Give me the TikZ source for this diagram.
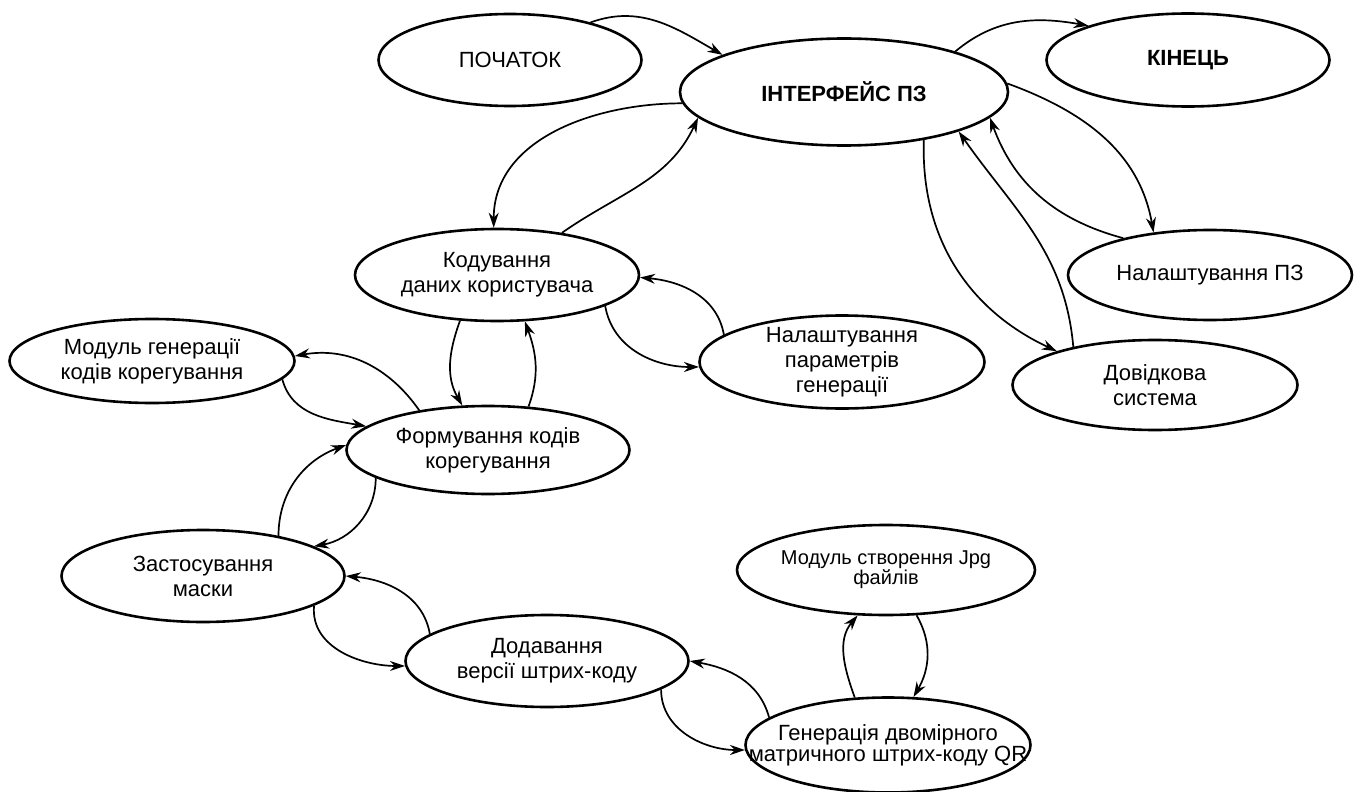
\documentclass[tikz,border=0pt]{standalone}
\usepackage{fontspec}
\setmainfont{Liberation Sans}
\usetikzlibrary{shapes.geometric,arrows.meta}
\begin{document}
\begin{tikzpicture}[x=0.5pt,y=-0.5pt,
  stt/.style={ellipse,draw,line width=1.3pt,inner xsep=-25pt,inner ysep=-10pt,align=center,
    font=\fontsize{11}{12.5}\selectfont,minimum width=142pt,minimum height=46pt},
  conn/.style={line width=0.85pt,-{Stealth[length=7.5pt,width=5pt]}}]
\useasboundingbox (0,0) rectangle (1361,792);
\fill[white] (0,0) rectangle (1361,792);

\node[stt,minimum width=131.5pt] (start) at (510,60) {ПОЧАТОК};
\node[stt,minimum width=164pt,minimum height=53.5pt,font=\fontsize{11}{12.5}\selectfont\bfseries] (iface) at (844,92) {ІНТЕРФЕЙС ПЗ};
\node[stt,minimum width=141.5pt,minimum height=46.5pt,font=\fontsize{11}{12.5}\selectfont\bfseries] (end) at (1188,60) {КІНЕЦЬ};
\node[stt] (kod) at (497,275) {Кодування\\даних користувача};
\node[stt,minimum height=45pt] (nalpz) at (1210,275) {Налаштування ПЗ};
\node[stt,minimum width=142.5pt,minimum height=46.5pt] (param) at (842,362) {Налаштування\\параметрів\\генерації};
\node[stt,minimum width=142.5pt,minimum height=45pt] (dov) at (1155,385) {Довідкова\\система};
\node[stt,minimum width=142.5pt,minimum height=42pt] (modgen) at (152,361) {Модуль генерації\\кодів корегування};
\node[stt,minimum width=141.5pt,minimum height=44pt] (form) at (488,450) {Формування кодів\\корегування};
\node[stt,minimum width=141.5pt] (zast) at (203,576) {Застосування\\маски};
\node[stt,minimum width=149pt,minimum height=45pt,font=\fontsize{10}{10}\selectfont] (jpg) at (886,570) {Модуль створення Jpg\\файлів};
\node[stt,minimum width=141.5pt] (dod) at (547,661) {Додавання\\версії штрих-коду};
\node[stt,minimum width=142.5pt,minimum height=47.5pt,font=\fontsize{11}{10.5}\selectfont] (qr) at (888,745) {Генерація двомірного\\матричного штрих-коду QR};

\draw[conn] (start.25) to[out=20,in=150] (iface.163);
\draw[conn] (iface.20) to[out=40,in=170] (end.161);
\draw[conn] (iface.184) to[out=180,in=90] (kod.94);
\draw[conn] (kod.33) to[out=35,in=245] (iface.190);
\draw[conn] (iface.3) to[out=-20,in=100] (nalpz.143);
\draw[conn] (nalpz.157) to[out=165,in=290] (iface.350);
\draw[conn] (iface.329) to[out=268,in=155] (dov.161);
\draw[conn] (dov.155) to[out=95,in=305] (iface.341);
\draw[conn] (kod.344) to[out=-80,in=180] (param.182);
\draw[conn] (param.167) to[out=100,in=355] (kod.359);
\draw[conn] (kod.231) to[out=250,in=120] (form.120);
\draw[conn] (form.47) to[out=70,in=290] (kod.301);
\draw[conn] (form.150) to[out=125,in=10] (modgen.2);
\draw[conn] (modgen.352) to[out=285,in=170] (form.169);
\draw[conn] (zast.28) to[out=90,in=200] (form.178);
\draw[conn] (form.194) to[out=270,in=10] (zast.15);
\draw[conn] (zast.345) to[out=265,in=180] (dod.182);
\draw[conn] (dod.167) to[out=100,in=355] (zast.0);
\draw[conn] (qr.167) to[out=105,in=350] (dod.0);
\draw[conn] (dod.346) to[out=270,in=180] (qr.182);
\draw[conn] (qr.125) to[out=110,in=230] (jpg.238);
\draw[conn] (jpg.304) to[out=300,in=60] (qr.62);
\end{tikzpicture}
\end{document}
